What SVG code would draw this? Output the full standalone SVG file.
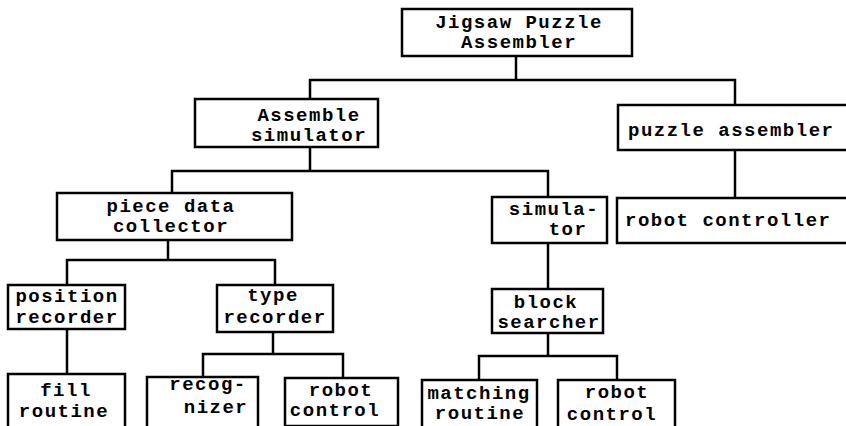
<svg xmlns="http://www.w3.org/2000/svg" width="846" height="426" viewBox="0 0 846 426">
<style>
.box{fill:#fff;stroke:#000;stroke-width:2.5}
.ln{fill:none;stroke:#000;stroke-width:2.5;stroke-linecap:square}
text{font-family:"Liberation Mono","Courier New",monospace;font-size:19px;letter-spacing:1.5px;font-weight:bold;fill:#000;text-anchor:middle}
.st{text-anchor:start}
</style>
<rect width="846" height="426" fill="#fff"/>
<g id="connectors">
<path class="ln" d="M516,56V80M310,80H735M310,80V99M735,80V105"/>
<path class="ln" d="M310,147V171M172,171H548M172,171V193M548,171V197"/>
<path class="ln" d="M735,150V198"/>
<path class="ln" d="M168,240V260M67,260H275M67,260V285M275,260V285"/>
<path class="ln" d="M67,329V374"/>
<path class="ln" d="M273,332V354M203,354H343M203,354V377M343,354V378"/>
<path class="ln" d="M548,243V289"/>
<path class="ln" d="M548,333V356M479,356H617M479,356V380M617,356V380"/>
</g>
<g id="jigsaw"><rect class="box" x="402" y="9" width="230" height="47"/><text x="519" y="28">Jigsaw Puzzle</text><text x="519" y="48">Assembler</text></g>
<g id="assemble-simulator"><rect class="box" x="195" y="99" width="183" height="48"/><text x="309" y="121">Assemble</text><text x="309" y="141">simulator</text></g>
<g id="puzzle-assembler"><rect class="box" x="618" y="105" width="232" height="45"/><text class="st" x="628" y="136">puzzle assembler</text></g>
<g id="piece-data-collector"><rect class="box" x="57" y="193" width="235" height="47"/><text x="171" y="212">piece data</text><text x="171" y="232">collector</text></g>
<g id="simulator"><rect class="box" x="492" y="197" width="115" height="46"/><text x="554" y="215">simula-</text><text x="568" y="235">tor</text></g>
<g id="robot-controller"><rect class="box" x="617" y="198" width="233" height="45"/><text class="st" x="625" y="226">robot controller</text></g>
<g id="position-recorder"><rect class="box" x="8" y="285" width="117" height="44"/><text x="67" y="302">position</text><text x="67" y="323">recorder</text></g>
<g id="type-recorder"><rect class="box" x="217" y="285" width="116" height="47"/><text x="273" y="301">type</text><text x="275" y="323">recorder</text></g>
<g id="fill-routine"><rect class="box" x="8" y="374" width="117" height="54"/><text x="66" y="396">fill</text><text x="64" y="417">routine</text></g>
<g id="recognizer"><rect class="box" x="147" y="377" width="111" height="51"/><text x="208" y="390">recog-</text><text x="216" y="413">nizer</text></g>
<g id="robot-control-1"><rect class="box" x="285" y="378" width="113" height="48"/><text x="341" y="396">robot</text><text x="335" y="416">control</text></g>
<g id="block-searcher"><rect class="box" x="492" y="289" width="111" height="44"/><text x="546" y="308">block</text><text x="549" y="328">searcher</text></g>
<g id="matching-routine"><rect class="box" x="422" y="380" width="115" height="48"/><text x="479" y="399">matching</text><text x="480" y="419">routine</text></g>
<g id="robot-control-2"><rect class="box" x="558" y="380" width="117" height="48"/><text x="617" y="398">robot</text><text x="612" y="420">control</text></g>
</svg>
